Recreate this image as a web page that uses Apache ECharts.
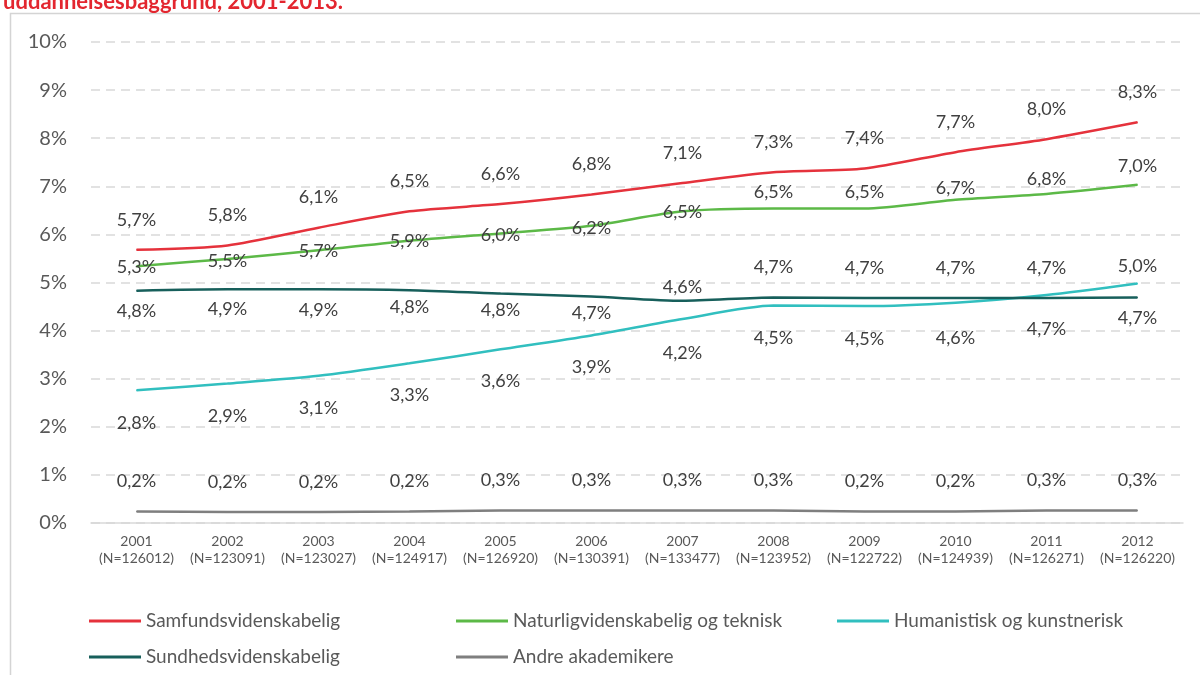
<!DOCTYPE html>
<html>

<head>
    <meta charset="utf-8">
    <script src="https://cdn.jsdelivr.net/npm/echarts@6/dist/echarts.min.js"></script>
</head>

<body style="margin:0">
    <div id="main" style="width: 1200px;height:675px;"></div>
    <script type="text/javascript">
        // data (percent)
        var years = ['2001', '2002', '2003', '2004', '2005', '2006', '2007', '2008', '2009', '2010', '2011', '2012'];
        var nValues = ['126012', '123091', '123027', '124917', '126920', '130391', '133477', '123952', '122722', '124939', '126271', '126220'];
        var samfunds = [5.68, 5.77, 6.14, 6.48, 6.63, 6.83, 7.07, 7.29, 7.37, 7.71, 7.98, 8.33];
        var naturlig = [5.34, 5.49, 5.67, 5.87, 6.02, 6.18, 6.48, 6.54, 6.54, 6.72, 6.84, 7.03];
        var humanistisk = [2.76, 2.90, 3.06, 3.32, 3.61, 3.90, 4.24, 4.52, 4.51, 4.58, 4.74, 4.98];
        var sundheds = [4.83, 4.86, 4.86, 4.84, 4.77, 4.71, 4.62, 4.69, 4.68, 4.68, 4.68, 4.69];
        var andre = [0.24, 0.23, 0.23, 0.24, 0.26, 0.26, 0.26, 0.26, 0.24, 0.24, 0.26, 0.26];
        var yTicks = [0, 1, 2, 3, 4, 5, 6, 7, 8, 9, 10];

        // label vertical shifts (px), like the manual placement in the original
        var shiftSamfunds = [-30, -30, -30, -30, -30, -30, -30, -30, -30, -30, -30, -30];
        var shiftNaturlig = [1, 2, 1, 1, 2, 2, 1, -16, -16, -12, -15, -19];
        var shiftHuman = [33, 33, 32, 32, 32, 32, 34, 33, 33, 35, 34, -17];
        var shiftSundheds = [21, 20, 21, 17, 17, 17, -14, -30, -30, -30, -30, 21];
        var shiftAndre = [-30, -30, -30, -30, -30, -30, -30, -30, -30, -30, -30, -30];

        var myChart = echarts.init(document.getElementById('main'));

        function fmt(v) {
            return v.toFixed(1).replace('.', ',') + '%';
        }

        function makeSeries(name, values, shifts, color) {
            return {
                name: name,
                type: 'line',
                smooth: 0.25,
                symbol: 'circle',
                symbolSize: 1,
                itemStyle: { color: color },
                lineStyle: { color: color, width: 2.5 },
                label: {
                    show: true,
                    position: 'inside',
                    color: '#404040',
                    fontFamily: 'Lato',
                    fontSize: 18,
                    formatter: function (p) { return fmt(p.value); }
                },
                emphasis: { disabled: true },
                data: values.map(function (v, i) {
                    return { value: v, label: { offset: [0, shifts[i]] } };
                })
            };
        }

        var legendText = { color: '#595959', fontFamily: 'Lato', fontSize: 19, lineHeight: 20 };

        var option = {
            animation: false,
            title: {
                text: 'uddannelsesbaggrund, 2001-2013.',
                left: -2,
                top: -14,
                textStyle: { color: '#e3262f', fontFamily: 'Lato', fontWeight: 'bold', fontSize: 22 }
            },
            graphic: [{
                type: 'rect',
                shape: { x: 10.5, y: 13.5, width: 1200, height: 700 },
                style: { fill: 'none', stroke: '#d4d4d4', lineWidth: 1.5 },
                silent: true
            }],
            legend: [{
                data: ['Samfundsvidenskabelig', 'Sundhedsvidenskabelig'],
                orient: 'vertical', left: 84, top: 606, itemGap: 16,
                icon: 'rect', itemWidth: 52, itemHeight: 3, textStyle: legendText
            }, {
                data: ['Naturligvidenskabelig og teknisk', 'Andre akademikere'],
                orient: 'vertical', left: 451, top: 606, itemGap: 16,
                icon: 'rect', itemWidth: 52, itemHeight: 3, textStyle: legendText
            }, {
                data: ['Humanistisk og kunstnerisk'],
                orient: 'vertical', left: 832, top: 606, itemGap: 16,
                icon: 'rect', itemWidth: 52, itemHeight: 3, textStyle: legendText
            }],
            grid: { left: 91, right: 17, top: 42, bottom: 152, containLabel: false },
            xAxis: {
                type: 'category',
                data: years,
                boundaryGap: true,
                axisLine: { show: true, lineStyle: { color: '#d9d9d9', width: 1.5 } },
                axisTick: { show: false },
                axisLabel: {
                    interval: 0,
                    color: '#595959', fontFamily: 'Lato', fontSize: 14, lineHeight: 17, margin: 10,
                    formatter: function (v, i) { return v + '\n(N=' + nValues[i] + ')'; }
                }
            },
            yAxis: {
                type: 'value',
                min: yTicks[0],
                max: yTicks[yTicks.length - 1],
                interval: 1,
                axisLine: { show: false },
                axisTick: { show: false },
                axisLabel: {
                    color: '#595959', fontFamily: 'Lato', fontSize: 20, margin: 24,
                    formatter: function (v) { return v + '%'; }
                },
                splitLine: { lineStyle: { color: '#d9d9d9', width: 1.5, type: [9, 6] } }
            },
            series: [
                makeSeries('Samfundsvidenskabelig', samfunds, shiftSamfunds, '#e5323c'),
                makeSeries('Naturligvidenskabelig og teknisk', naturlig, shiftNaturlig, '#5cb947'),
                makeSeries('Humanistisk og kunstnerisk', humanistisk, shiftHuman, '#31bfbf'),
                makeSeries('Sundhedsvidenskabelig', sundheds, shiftSundheds, '#175f5b'),
                makeSeries('Andre akademikere', andre, shiftAndre, '#7f7f7f')
            ]
        };

        myChart.setOption(option);
    </script>
</body>

</html>
